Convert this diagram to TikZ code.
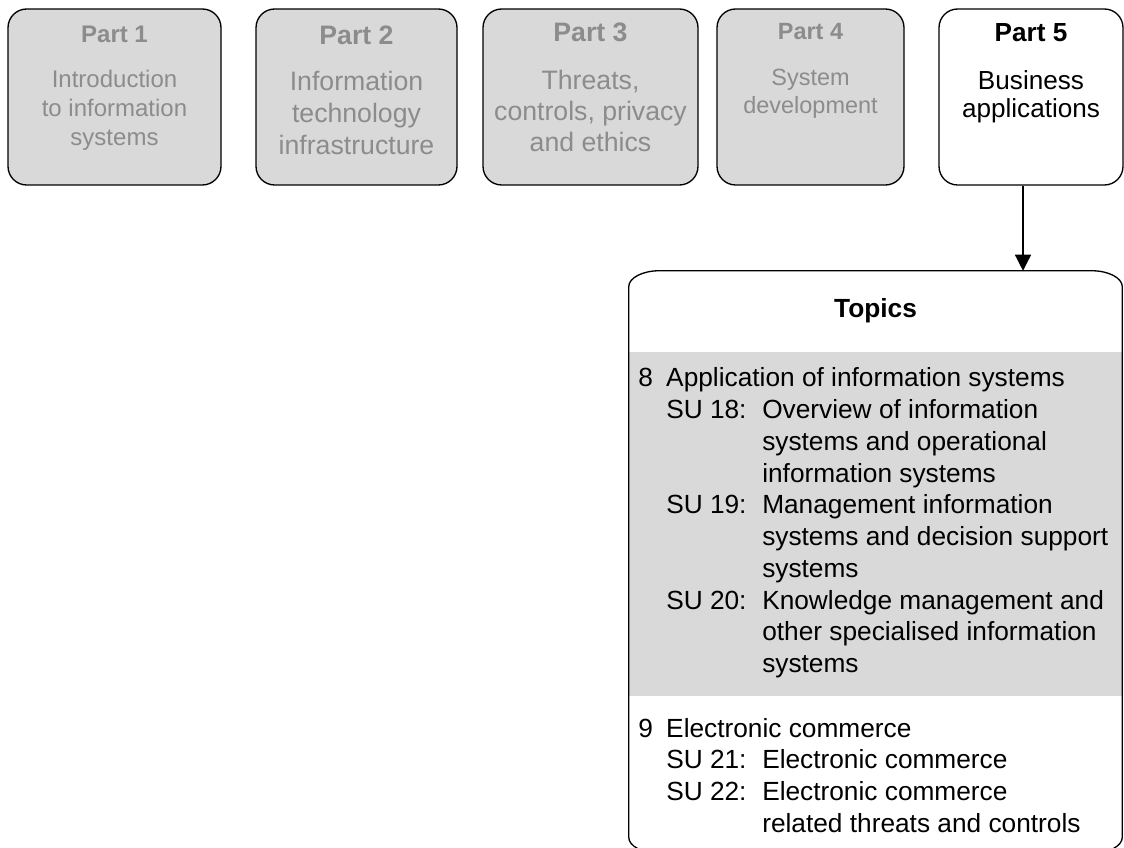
\documentclass[tikz,border=0pt]{standalone}
\usepackage{fontspec}
\setmainfont{Liberation Sans}
\usepackage{xcolor}
\usetikzlibrary{positioning,arrows.meta,backgrounds}
\definecolor{partgray}{RGB}{140,140,140}
\definecolor{boxgray}{RGB}{217,217,217}
\tikzset{
  line/.style={-{Triangle[length=12pt,width=12pt]}, line width=1pt, draw=black},
  every node/.style={anchor=center}
}

\begin{document}
\begin{tikzpicture}[
  x=0.75pt, y=-0.75pt,
  part/.style={rounded corners=14pt, draw=black, fill=boxgray, line width=1pt, minimum height=132pt, inner sep=0pt},
  current/.style={part, fill=white},
  ptext/.style={anchor=base, inner sep=0pt, text=partgray},
  topicbox/.style={minimum width=369.75pt, minimum height=436.5pt, inner sep=0pt},
  frame/.style={line width=1pt, draw=black},
  topictext/.style={anchor=base west, inner sep=0pt, font=\fontsize{19.7}{23.8}\selectfont}
]
\useasboundingbox (0,0) rectangle (1124,848);
% the five parts
\node[part, minimum width=159.75pt] (p1) at (114.5,97) {};
\node[part, minimum width=150.75pt] (p2) at (356.5,97) {};
\node[part, minimum width=161.25pt] (p3) at (590.5,97) {};
\node[part, minimum width=140.25pt] (p4) at (810.5,97) {};
\node[current, minimum width=138pt] (p5) at (1031,97) {};
\node[ptext, font=\fontsize{18}{21.5}\selectfont] (t1) at ([yshift=-26pt]p1.north)
  {\begin{tabular}[t]{@{}c@{}}\textbf{Part 1}\\[12.25pt]Introduction\\to information\\systems\end{tabular}};
\node[ptext, font=\fontsize{20}{24}\selectfont] (t2) at ([yshift=-27pt]p2.north)
  {\begin{tabular}[t]{@{}c@{}}\textbf{Part 2}\\[11pt]Information\\technology\\infrastructure\end{tabular}};
\node[ptext, font=\fontsize{20}{23.25}\selectfont] (t3) at ([yshift=-24.75pt]p3.north)
  {\begin{tabular}[t]{@{}c@{}}\textbf{Part 3}\\[12.75pt]Threats,\\controls, privacy\\and ethics\end{tabular}};
\node[ptext, font=\fontsize{17.6}{21}\selectfont] (t4) at ([yshift=-23.25pt]p4.north)
  {\begin{tabular}[t]{@{}c@{}}\textbf{Part 4}\\[13.5pt]System\\development\end{tabular}};
\node[ptext, text=black, font=\fontsize{19.6}{21}\selectfont] (t5) at ([yshift=-24.75pt]p5.north)
  {\begin{tabular}[t]{@{}c@{}}\textbf{Part 5}\\[15pt]Business\\applications\end{tabular}};
% topics of part 5
\node[topicbox] (topics) at (875.5,562) {};
\begin{scope}[on background layer]
  \fill[boxgray] (topics.west |- 0,352) rectangle (topics.east |- 0,696);
\end{scope}
\draw[frame] ([yshift=12pt]topics.south west) -- ([yshift=-12pt]topics.north west)
  arc[start angle=180, end angle=90, x radius=23pt, y radius=12pt] -- ([xshift=-23pt]topics.north east)
  arc[start angle=90, end angle=0, x radius=23pt, y radius=12pt] -- ([yshift=12pt]topics.south east)
  arc[start angle=0, end angle=-90, x radius=23pt, y radius=12pt] -- ([xshift=23pt]topics.south west)
  arc[start angle=270, end angle=180, x radius=23pt, y radius=12pt] -- cycle;
\node[anchor=base, inner sep=0pt, font=\fontsize{19.7}{23.8}\selectfont\bfseries] (ttl) at ([yshift=-35.25pt]topics.north) {Topics};
\node[topictext] (su8) at (638,387)
  {\begin{tabular}[t]{@{}p{21pt}@{}p{72pt}@{}l@{}}
   8 & \multicolumn{2}{@{}l@{}}{Application of information systems}\\
     & SU 18: & Overview of information\\
     &        & systems and operational\\
     &        & information systems\\
     & SU 19: & Management information\\
     &        & systems and decision support\\
     &        & systems\\
     & SU 20: & Knowledge management and\\
     &        & other specialised information\\
     &        & systems
   \end{tabular}};
\node[topictext] (su9) at (638,737)
  {\begin{tabular}[t]{@{}p{21pt}@{}p{72pt}@{}l@{}}
   9 & \multicolumn{2}{@{}l@{}}{Electronic commerce}\\
     & SU 21: & Electronic commerce\\
     & SU 22: & Electronic commerce\\
     &        & related threats and controls
   \end{tabular}};
\draw[line] ([xshift=-6pt]p5.south) -- ([xshift=-6pt]p5.south |- topics.north);
\end{tikzpicture}
\end{document}
